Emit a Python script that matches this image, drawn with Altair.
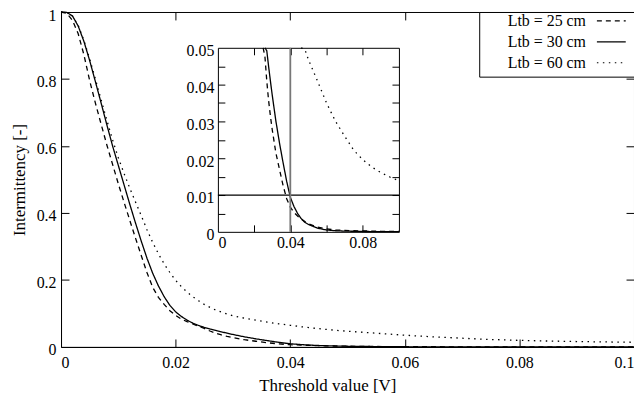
import altair as alt
import pandas as pd

# ---------------- data ----------------
threshold = [0.000, 0.001, 0.002, 0.003, 0.004, 0.005, 0.006, 0.007, 0.008, 0.009,
             0.010, 0.011, 0.012, 0.013, 0.014, 0.015, 0.016, 0.017, 0.018, 0.019,
             0.020, 0.021, 0.022, 0.023, 0.024, 0.025, 0.026, 0.027, 0.028, 0.029,
             0.030, 0.032, 0.034, 0.036, 0.038, 0.040, 0.042, 0.044, 0.046, 0.048,
             0.050, 0.055, 0.060, 0.065, 0.070, 0.075, 0.080, 0.085, 0.090, 0.095,
             0.100]

ltb25 = [1.000, 0.996, 0.975, 0.935, 0.872, 0.795, 0.728, 0.665, 0.603, 0.545,
         0.487, 0.432, 0.378, 0.325, 0.273, 0.222, 0.178, 0.148, 0.127, 0.108,
         0.094, 0.083, 0.0755, 0.0685, 0.0618, 0.0552, 0.0475, 0.0410, 0.0357, 0.0315,
         0.0278, 0.0215, 0.0170, 0.0126, 0.0090, 0.0067, 0.0053, 0.0043, 0.0035, 0.0028,
         0.0022, 0.0013, 0.0008, 0.0005, 0.0004, 0.0003, 0.00025, 0.0002, 0.00015, 0.00012,
         0.0001]

ltb30 = [1.000, 0.999, 0.988, 0.958, 0.912, 0.855, 0.792, 0.728, 0.663, 0.600,
         0.542, 0.484, 0.426, 0.370, 0.316, 0.265, 0.220, 0.182, 0.150, 0.124,
         0.105, 0.091, 0.080, 0.071, 0.064, 0.0583, 0.0535, 0.0492, 0.0450, 0.0410,
         0.0372, 0.0302, 0.0242, 0.0188, 0.0137, 0.0094, 0.0069, 0.0050, 0.0036, 0.0026,
         0.0020, 0.0010, 0.0005, 0.0003, 0.0002, 0.00015, 0.0001, 0.00008, 0.00006, 0.00005,
         0.00004]

ltb60 = [1.000, 0.999, 0.988, 0.960, 0.915, 0.860, 0.800, 0.738, 0.677, 0.618,
         0.565, 0.518, 0.474, 0.433, 0.392, 0.350, 0.312, 0.278, 0.248, 0.222,
         0.199, 0.180, 0.164, 0.150, 0.138, 0.127, 0.118, 0.110, 0.104, 0.098,
         0.093, 0.086, 0.080, 0.074, 0.069, 0.0645, 0.0602, 0.0563, 0.0528, 0.0496,
         0.0468, 0.0410, 0.0350, 0.0300, 0.0260, 0.0222, 0.0196, 0.0176, 0.0161, 0.0149,
         0.0139]

series_names = ["Ltb = 25 cm", "Ltb = 30 cm", "Ltb = 60 cm"]

main_x_ticks = [0, 0.02, 0.04, 0.06, 0.08, 0.1]
main_y_ticks = [0, 0.2, 0.4, 0.6, 0.8, 1]
main_x_inner = [0.02, 0.04, 0.06, 0.08]
main_y_inner = [0.2, 0.4, 0.6, 0.8]

inset_x_domain = [0, 0.1]
inset_y_domain = [0, 0.05]
inset_x_labels = [0, 0.04, 0.08]
inset_x_inner = [0.02, 0.04, 0.06, 0.08]
inset_y_labels = [0, 0.01, 0.02, 0.03, 0.04, 0.05]
inset_y_inner = [0.005, 0.01, 0.015, 0.02, 0.025, 0.03, 0.035, 0.04, 0.045]

criterion_level = 0.01       # horizontal line in the inset
criterion_threshold = 0.04   # vertical line in the inset

# ---------------- tables ----------------
rows = []
for name, vals in zip(series_names, [ltb25, ltb30, ltb60]):
    for t, v in zip(threshold, vals):
        rows.append({"threshold": t, "intermittency": v, "series": name})
df = pd.DataFrame(rows)

hline_df = pd.DataFrame({"x0": [inset_x_domain[0]], "x1": [inset_x_domain[1]], "y": [criterion_level]})
vline_df = pd.DataFrame({"x": [criterion_threshold], "y0": [inset_y_domain[0]], "y1": [inset_y_domain[1]]})

# ---------------- layout ----------------
W, H = 576, 336.7
IX = [157.7, 339.7]   # inset x pixel range (relative to plot origin)
IY = [221, 36]        # inset y pixel range
FONT = "Liberation Serif"
FS = 16


def mx():
    return alt.Scale(domain=[0, 0.1], nice=False, zero=False)


def my():
    return alt.Scale(domain=[0, 1], nice=False, zero=False)


def ix():
    return alt.Scale(domain=inset_x_domain, range=IX, nice=False, zero=False)


def iy():
    return alt.Scale(domain=inset_y_domain, range=IY, nice=False, zero=False, clamp=True)


def label_axis(orient, values, offset=0, pad=5, loff=0, **kw):
    return alt.Axis(orient=orient, offset=offset, values=values, format="~g",
                    ticks=False, tickSize=0, labels=True, labelPadding=pad,
                    labelFont=FONT, labelFontSize=FS, labelColor="black",
                    labelOffset=loff, domain=True, domainColor="black",
                    grid=False, **kw)


def tick_axis(orient, values, offset, size=8, domain=False):
    return alt.Axis(orient=orient, offset=offset, values=values, labels=False,
                    ticks=True, tickSize=size, tickColor="black", tickWidth=1,
                    domain=domain, domainColor="black", grid=False, title=None)


dash_scale = alt.Scale(domain=series_names, range=[[5, 4], [1, 0], [1.5, 4.5]])

# legend sample line drawn to the right of the label (custom symbol path, r = 1px)
sample_path = "M-2,0M109.3,0L138.3,0M151,10"

legend = alt.Legend(orient="none", legendX=420.4, legendY=0, title=None,
                    symbolType=sample_path, symbolSize=4, symbolStrokeWidth=1.2,
                    symbolStrokeColor="black", symbolFillColor="transparent",
                    labelFont=FONT, labelFontSize=FS,
                    labelColor="black", labelOffset=11.6,
                    rowPadding=0, padding=1, strokeColor="black", fillColor="white")

title_kw = dict(titleFont=FONT, titleFontSize=17, titleFontWeight="normal", titleColor="black")

# main curves (with labelled axes)
main_lines = alt.Chart(df).mark_line(strokeWidth=1.3, color="black").encode(
    x=alt.X("threshold:Q", scale=mx(),
            axis=label_axis("bottom", main_x_ticks, pad=8, title="Threshold value [V]",
                            titleX=267.7, titleY=44, titleAlign="center",
                            titleBaseline="alphabetic", **title_kw)),
    y=alt.Y("intermittency:Q", scale=my(),
            axis=label_axis("left", main_y_ticks, pad=5,
                            loff={"condition": {"test": "datum.value == 1", "value": 4},
                                  "value": 2.5},
                            title="Intermittency [-]",
                            titleX=-36.8, titleY=H / 2, titleAngle=270,
                            titleAlign="center", titleBaseline="alphabetic", **title_kw)),
    strokeDash=alt.StrokeDash("series:N", scale=dash_scale, legend=legend),
    detail="series:N",
)

# inward ticks on bottom / left of main plot
main_ticks_a = alt.Chart(df).mark_line(opacity=0).encode(
    x=alt.X("threshold:Q", scale=mx(), axis=tick_axis("top", main_x_inner, -H)),
    y=alt.Y("intermittency:Q", scale=my(), axis=tick_axis("right", main_y_inner, -W)),
    detail="series:N",
)
# inward ticks on top / right of main plot
main_ticks_b = alt.Chart(df).mark_line(opacity=0).encode(
    x=alt.X("threshold:Q", scale=mx(), axis=tick_axis("bottom", main_x_inner, -H)),
    y=alt.Y("intermittency:Q", scale=my(), axis=tick_axis("left", main_y_inner, -W)),
    detail="series:N",
)

# inset curves: keep the points inside the inset plus the one just before entering it
inset_lines = alt.Chart(df).transform_window(
    nxt="lead(intermittency)", groupby=["series"], sort=[alt.SortField("threshold")]
).transform_filter(
    f"datum.intermittency <= {inset_y_domain[1]} || datum.nxt <= {inset_y_domain[1]}"
).mark_line(strokeWidth=1.3, color="black").encode(
    x=alt.X("threshold:Q", scale=ix(),
            axis=label_axis("bottom", inset_x_labels, offset=IY[0] - H, pad=3, title=None)),
    y=alt.Y("intermittency:Q", scale=iy(),
            axis=label_axis("left", inset_y_labels, offset=-IX[0], pad=4, loff=3, title=None)),
    strokeDash=alt.StrokeDash("series:N", scale=dash_scale, legend=None),
    detail="series:N",
)

# horizontal criterion line + inward ticks bottom/left of inset
inset_h = alt.Chart(hline_df).mark_rule(color="black", strokeWidth=1.2).encode(
    x=alt.X("x0:Q", scale=ix(), axis=tick_axis("top", inset_x_inner, -IY[0], size=7)),
    x2="x1:Q",
    y=alt.Y("y:Q", scale=iy(), axis=tick_axis("right", inset_y_inner, IX[0] - W, size=7)),
)

# vertical criterion line + inward ticks top/right of inset (with border)
inset_v = alt.Chart(vline_df).mark_rule(color="#777777", strokeWidth=1.8).encode(
    x=alt.X("x:Q", scale=ix(),
            axis=tick_axis("bottom", inset_x_inner, IY[1] - H, size=7, domain=True)),
    y=alt.Y("y0:Q", scale=iy(),
            axis=tick_axis("left", inset_y_inner, -IX[1], size=7, domain=True)),
    y2="y1:Q",
)

chart = alt.layer(
    main_lines, main_ticks_a, main_ticks_b, inset_lines, inset_h, inset_v
).resolve_scale(
    x="independent", y="independent"
).properties(
    width=W, height=H,
    padding={"left": 53.3, "top": 3, "right": 0, "bottom": 46.3},
    autosize=alt.AutoSizeParams(type="none"),
).configure_view(
    stroke="black", strokeWidth=1
).configure_axis(
    labelFont=FONT, labelFontSize=FS, labelColor="black",
    titleFont=FONT, titleFontSize=17, titleFontWeight="normal", titleColor="black",
    domainColor="black", domainWidth=1, tickColor="black", tickWidth=1,
)

chart.save("out.html", embed_options={"renderer": "svg", "actions": False})
